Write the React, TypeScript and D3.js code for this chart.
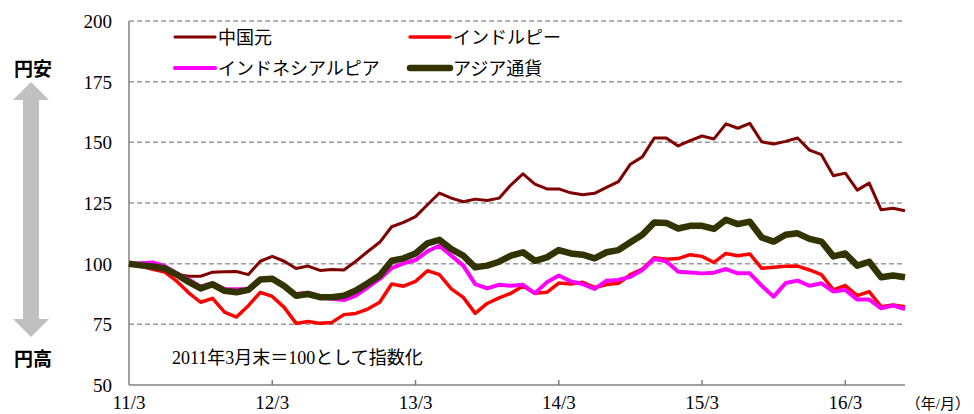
import * as d3 from "d3";
import { useEffect, useRef } from "react";

// months from 2011/3 to 2016/8, month-end index (2011/3 = 100)
const tickLabels = ["11/3", "12/3", "13/3", "14/3", "15/3", "16/3"];
const tickIndex = [0, 12, 24, 36, 48, 60];
const yTicks = [50, 75, 100, 125, 150, 175, 200];

const seriesNames = ["中国元", "インドルピー", "インドネシアルピア", "アジア通貨"];

const cny = [
  100, 99.6, 98.8, 98, 95.5, 94.8, 94.8, 96.5, 96.7, 96.8, 95.5, 101,
  103, 101, 98, 99, 97.2, 97.6, 97.4, 101, 105, 108.8, 115.2, 117,
  119.4, 124.3, 129.1, 127, 125.5, 126.6, 126, 127, 132.5, 137, 132.8, 130.8,
  130.8, 129.2, 128.4, 129, 131.4, 133.8, 141, 144, 151.8, 151.8, 148.5, 150.7,
  152.6, 151.4, 157.6, 155.8, 157.8, 150.2, 149.3, 150.4, 151.8, 146.8, 144.9, 136.2,
  137.3, 130.3, 133.2, 122.2, 122.8, 121.8,
];
const inr = [
  100, 99, 97.7, 96.5, 92.8, 88, 84.1, 85.7, 80, 78, 82.7, 88.2,
  86.5, 82, 75.4, 76.2, 75.4, 75.8, 79, 79.5, 81.3, 84.1, 91.6, 90.7,
  92.7, 97.1, 95.5, 89.6, 86.1, 79.5, 83.6, 85.9, 87.8, 90.8, 87.8, 88.2,
  92, 91.6, 92.3, 90.2, 91.4, 91.9, 95.5, 97.8, 102.4, 101.8, 102.1, 103.7,
  103, 100.5, 104.2, 103.3, 104, 98.1, 98.5, 98.9, 99, 97.4, 95.5, 89.2,
  91, 86.8, 88.5, 82.3, 83, 82.3,
];
const idr = [
  100, 100.2, 100.5, 99, 96, 93.5, 90.5, 92, 89.5, 89.5, 89.5, 93.5,
  94, 90.5, 87.5, 88, 86.3, 85.5, 85, 86.8, 90.2, 93.7, 98.2, 100.1,
  101.5, 105.1, 107.4, 103.3, 99.2, 91.6, 89.8, 91.3, 90.9, 91.3, 87.8, 92.3,
  95.1, 92.7, 91.6, 89.6, 93, 93.3, 94.6, 97.4, 101.9, 101, 96.7, 96.4,
  96, 96.3, 97.8, 96, 96, 90.9, 86.4, 92, 93, 90.9, 91.9, 88.5,
  89.2, 85.2, 85.2, 81.6, 82.7, 81.3,
];
const asia = [
  100, 99.3, 98.8, 98, 95.5, 92.5, 89.8, 91.5, 88.8, 88.2, 89.2, 93.5,
  93.8, 90.8, 86.8, 87.5, 86.2, 86.2, 86.8, 88.9, 91.9, 95.1, 101.2, 102.2,
  104.2, 108.4, 109.8, 106, 103.3, 98.5, 99.2, 100.8, 103.3, 104.7, 101.2, 102.6,
  105.6, 104.2, 103.7, 102.2, 104.7, 105.6, 108.8, 111.9, 117, 116.8, 114.5, 115.6,
  115.6, 114.3, 118.1, 116.3, 117.3, 110.8, 109.1, 111.9, 112.5, 110.2, 109.1, 103,
  104.2, 99.2, 100.8, 94.4, 95.1, 94.4,
];

const colors = ["#800000", "#ff0000", "#ff00ff", "#333300"];
const widths = [3, 3.5, 4, 6.5];

const W = 974;
const H = 414;
const serif = "'Liberation Serif', 'Noto Sans CJK JP', serif";
const gothic = "'Noto Sans CJK JP', sans-serif";

const App = () => {
  const ref = useRef<SVGSVGElement | null>(null);

  useEffect(() => {
    const svg = d3.select(ref.current);
    svg.selectAll("*").remove();

    const x = d3.scaleLinear().domain([0, cny.length - 1]).range([129, 905]);
    const y = d3.scaleLinear().domain([50, 200]).range([385, 21]);

    // gridlines
    svg
      .append("g")
      .selectAll("line")
      .data(yTicks.filter((d) => d > 50))
      .enter()
      .append("line")
      .attr("x1", x(0))
      .attr("x2", x(cny.length - 1))
      .attr("y1", (d) => y(d))
      .attr("y2", (d) => y(d))
      .attr("stroke", "#9a9a9a")
      .attr("stroke-width", 1.5)
      .attr("stroke-dasharray", "5,3");

    // y labels
    svg
      .append("g")
      .selectAll("text")
      .data(yTicks)
      .enter()
      .append("text")
      .attr("x", 112)
      .attr("y", (d) => y(d) + 7)
      .attr("text-anchor", "end")
      .style("font-family", serif)
      .style("font-size", "19px")
      .text((d) => d);

    // axes
    svg
      .append("line")
      .attr("x1", x(0))
      .attr("x2", x(0))
      .attr("y1", y(200))
      .attr("y2", y(50))
      .attr("stroke", "#808080")
      .attr("stroke-width", 1.5);
    svg
      .append("line")
      .attr("x1", x(0))
      .attr("x2", x(cny.length - 1))
      .attr("y1", y(50))
      .attr("y2", y(50))
      .attr("stroke", "#808080")
      .attr("stroke-width", 1.5);

    const xt = svg.append("g");
    tickIndex.forEach((t, i) => {
      if (t > 0) {
        xt.append("line")
          .attr("x1", x(t))
          .attr("x2", x(t))
          .attr("y1", y(50))
          .attr("y2", y(50) - 5)
          .attr("stroke", "#808080")
          .attr("stroke-width", 1.5);
      }
      xt.append("text")
        .attr("x", x(t))
        .attr("y", 409)
        .attr("text-anchor", "middle")
        .style("font-family", serif)
        .style("font-size", "19px")
        .text(tickLabels[i]);
    });
    svg
      .append("text")
      .attr("x", 970)
      .attr("y", 409)
      .attr("text-anchor", "end")
      .style("font-family", serif)
      .style("font-size", "15px")
      .text("（年/月）");

    // lines
    const line = d3
      .line<number>()
      .x((_, i) => x(i))
      .y((d) => y(d));

    [cny, inr, idr, asia].forEach((s, i) => {
      svg
        .append("path")
        .attr("d", line(s))
        .attr("fill", "none")
        .attr("stroke", colors[i])
        .attr("stroke-width", widths[i])
        .attr("stroke-linejoin", "round");
    });

    // legend
    const lg = svg.append("g");
    seriesNames.forEach((name, i) => {
      const lx = i % 2 === 0 ? 175 : 410;
      const ly = i < 2 ? 37 : 68;
      lg.append("line")
        .attr("x1", lx)
        .attr("x2", lx + 40)
        .attr("y1", ly)
        .attr("y2", ly)
        .attr("stroke", colors[i])
        .attr("stroke-width", widths[i])
        .attr("stroke-linecap", "round");
      lg.append("text")
        .attr("x", lx + 43)
        .attr("y", ly + 7)
        .style("font-family", serif)
        .style("font-size", "18px")
        .text(name);
    });

    svg
      .append("text")
      .attr("x", 172)
      .attr("y", 364)
      .style("font-family", serif)
      .style("font-size", "18px")
      .text("2011年3月末＝100として指数化");

    // 円安 / 円高 arrow
    const ax = 31;
    const top = 82;
    const bot = 337;
    const hw = 18;
    const sw = 8;
    const hh = 18;
    const arrow = [
      [ax, top],
      [ax + hw, top + hh],
      [ax + sw, top + hh],
      [ax + sw, bot - hh],
      [ax + hw, bot - hh],
      [ax, bot],
      [ax - hw, bot - hh],
      [ax - sw, bot - hh],
      [ax - sw, top + hh],
      [ax - hw, top + hh],
    ] as [number, number][];
    svg
      .append("path")
      .attr("d", d3.line()(arrow) + "Z")
      .attr("fill", "#c0c0c0");

    svg
      .append("text")
      .attr("x", 33)
      .attr("y", 76)
      .attr("text-anchor", "middle")
      .style("font-family", gothic)
      .style("font-size", "19px")
      .style("font-weight", "bold")
      .text("円安");
    svg
      .append("text")
      .attr("x", 33)
      .attr("y", 366)
      .attr("text-anchor", "middle")
      .style("font-family", gothic)
      .style("font-size", "19px")
      .style("font-weight", "bold")
      .text("円高");
  }, []);

  return (
    <svg
      ref={ref}
      width={W}
      height={H}
      style={{ position: "absolute", left: 0, top: 0, background: "#fff" }}
    />
  );
};

export default App;
